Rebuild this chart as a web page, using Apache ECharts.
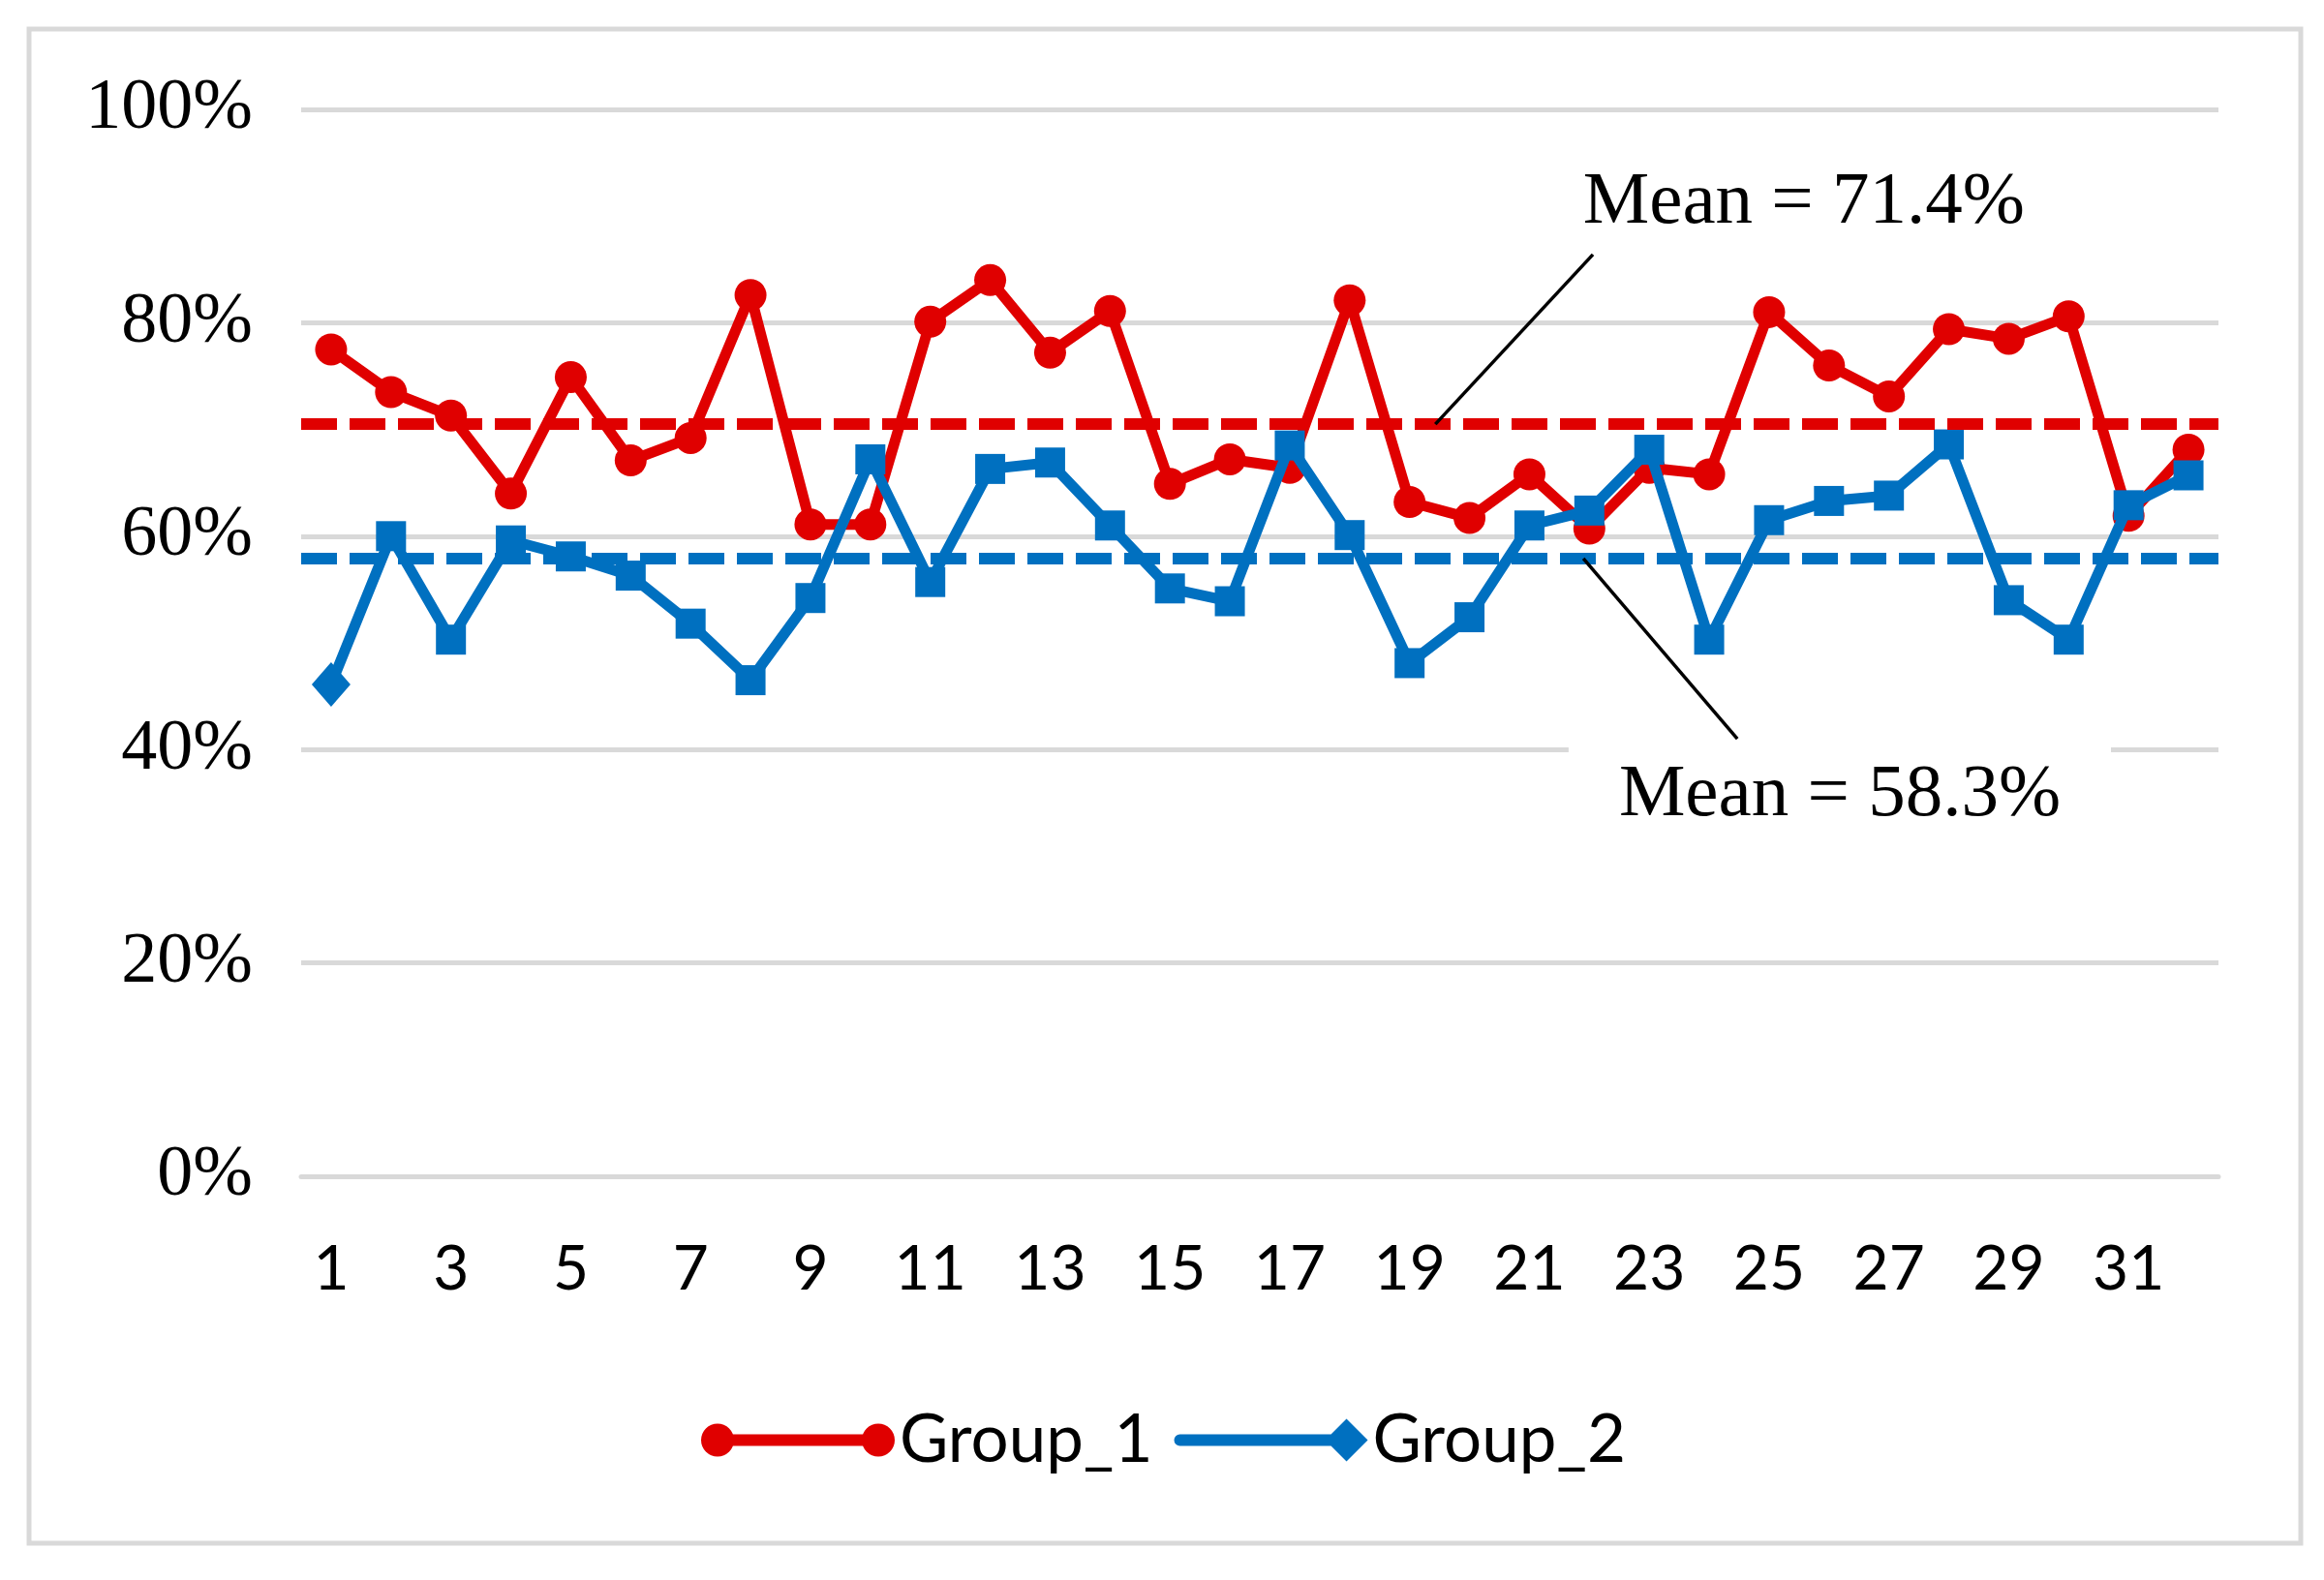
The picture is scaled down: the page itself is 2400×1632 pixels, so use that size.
<!DOCTYPE html>
<html><head><meta charset="utf-8">
<script src="https://cdn.jsdelivr.net/npm/echarts@6/dist/echarts.min.js"></script>
<style>html,body{margin:0;padding:0;background:#fff}#c{width:2400px;height:1632px}</style>
</head><body><div id="c"></div><script>
// ---- data ----
const categories = ['1','2','3','4','5','6','7','8','9','10','11','12','13','14','15','16',
  '17','18','19','20','21','22','23','24','25','26','27','28','29','30','31','32'];
const group1 = [77.5,73.5,71.3,64.0,74.9,67.1,69.2,82.6,61.1,61.1,80.1,84.0,77.2,81.1,64.9,67.2,
  66.4,82.1,63.2,61.7,65.8,60.7,66.4,65.8,81.0,76.0,73.1,79.4,78.5,80.6,61.9,68.1];
const group2 = [46.1,60.0,50.3,59.6,58.1,56.3,51.8,46.5,54.2,67.2,55.7,66.3,66.9,61.0,55.1,53.9,
  68.5,60.1,48.1,52.4,61.0,62.4,68.1,50.3,61.5,63.3,63.8,68.6,54.0,50.3,62.9,65.7];
const seriesNames = ['Group_1','Group_2'];
const meanLines = [70.5, 57.9];
const meanLabels = ['Mean = 71.4%', 'Mean = 58.3%'];
const labelAt = [[25.58, 91.2], [26.18, 35.7]];
const leaderFrom = [[22.06, 86.4], [21.9, 57.9]];
const leaderTo = [[19.43, 70.5], [24.47, 41.0]];
const yMin = 0, yMax = 100, yStep = 20;

const RED = '#e00000', BLUE = '#0070c0', GRID = '#d9d9d9';
const icon1 = 'path://M0,17 A17,17 0 1,1 34,17 A17,17 0 1,1 0,17 Z M17,11 L183,11 L183,23 L17,23 Z M166,17 A17,17 0 1,1 200,17 A17,17 0 1,1 166,17 Z';
const icon2 = 'path://M6,16 L178,16 L178,28 L6,28 A6,6 0 0,1 6,16 Z M156,22 L178,0 L200,22 L178,44 Z';

const chart = echarts.init(document.getElementById('c'), null, {renderer: 'canvas'});
const option = {
  animation: false,
  backgroundColor: '#fff',
  grid: {left: 311, right: 109, top: 113, bottom: 417, containLabel: false, outerBoundsMode: 'none'},
  legend: {
    left: 719, top: 1448, itemWidth: 200, itemHeight: 44, itemGap: 22,
    data: [{name: seriesNames[0], icon: icon1}, {name: seriesNames[1], icon: icon2}],
    itemStyle: {borderWidth: 0},
    textStyle: {fontFamily: 'Lato', fontSize: 69, color: '#000', padding: [0, 0, 0, 0]},
    selectedMode: false
  },
  xAxis: [{
    type: 'category', data: categories, boundaryGap: true,
    axisLine: {show: true, lineStyle: {color: GRID, width: 5}},
    axisTick: {show: false},
    axisLabel: {interval: 1, fontFamily: 'Lato', fontSize: 64, color: '#000', margin: 64}
  }, {
    type: 'value', min: 0.5, max: 32.5, show: false
  }],
  yAxis: {
    type: 'value', min: yMin, max: yMax, interval: yStep,
    axisLine: {show: false}, axisTick: {show: false},
    splitLine: {lineStyle: {color: GRID, width: 5}},
    axisLabel: {formatter: '{value}%', fontFamily: 'Liberation Serif', fontSize: 74, color: '#000', margin: 50}
  },
  series: [{
    name: seriesNames[0], type: 'line', data: group1,
    symbol: 'circle', symbolSize: 33, symbolKeepAspect: true, showAllSymbol: true,
    lineStyle: {color: RED, width: 11}, itemStyle: {color: RED},
    z: 3,
    markLine: {silent: true, symbol: 'none', label: {show: false},
      lineStyle: {color: RED, width: 12, type: [37, 13]}, data: [{yAxis: meanLines[0]}]}
  }, {
    name: seriesNames[1], type: 'line',
    data: group2.map((v, i) => i === 0 ? {value: v, symbol: 'diamond', symbolSize: [40, 46]} : v),
    symbol: 'rect', symbolSize: 31, symbolKeepAspect: true, showAllSymbol: true,
    lineStyle: {color: BLUE, width: 11}, itemStyle: {color: BLUE},
    z: 4,
    markLine: {silent: true, symbol: 'none', label: {show: false},
      lineStyle: {color: BLUE, width: 12, type: [37, 13]}, data: [{yAxis: meanLines[1]}]}
  }]
};
chart.setOption(option);

function px(p) {
  return [chart.convertToPixel({xAxisIndex: 1}, p[0]), chart.convertToPixel({yAxisIndex: 0}, p[1])];
}
const graphics = [{
  type: 'rect', shape: {x: 30, y: 30, width: 2346, height: 1564},
  style: {fill: 'none', stroke: GRID, lineWidth: 5}, silent: true, z: 0
}];
for (let k = 0; k < 2; k++) {
  const c = px(labelAt[k]);
  graphics.push({
    type: 'text', x: c[0], y: c[1], z: 10, silent: true,
    style: {text: meanLabels[k], fontFamily: 'Liberation Serif', fontSize: 77, fill: '#000',
      align: 'center', verticalAlign: 'middle',
      backgroundColor: k === 1 ? '#fff' : null, padding: k === 1 ? [16, 52, 16, 52] : 0}
  });
  const a = px(leaderFrom[k]), b = px(leaderTo[k]);
  graphics.push({
    type: 'line', z: 11, silent: true,
    shape: {x1: a[0], y1: a[1], x2: b[0], y2: b[1]},
    style: {stroke: '#000', lineWidth: 3.5}
  });
}
chart.setOption({graphic: graphics});
</script></body></html>
